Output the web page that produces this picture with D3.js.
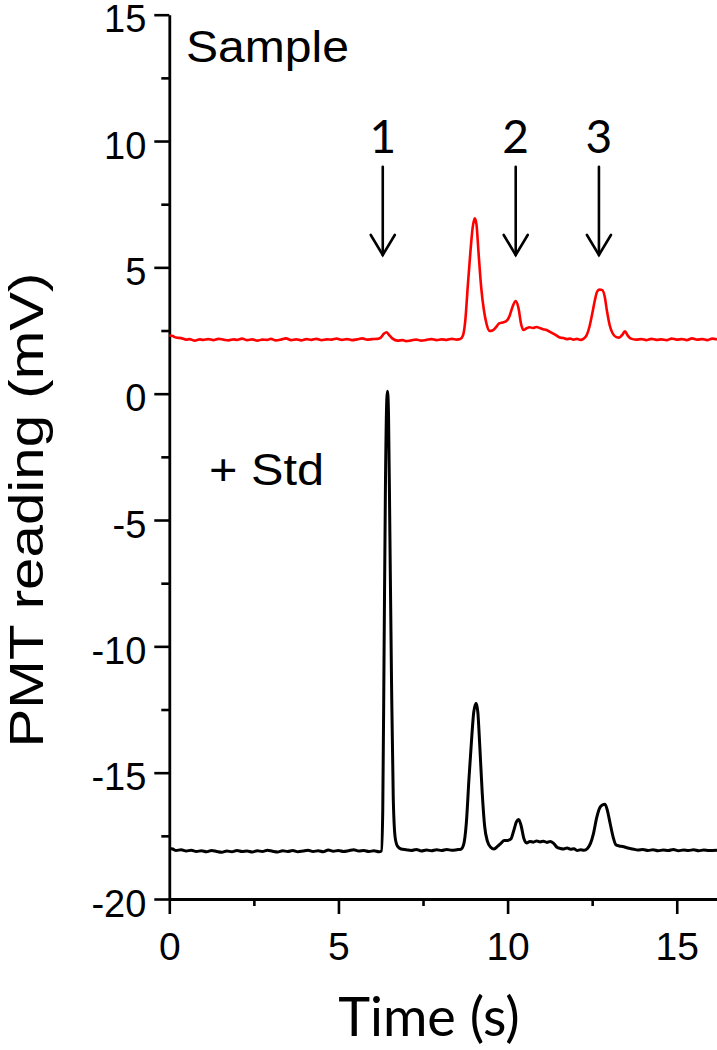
<!DOCTYPE html>
<html>
<head>
<meta charset="utf-8">
<script src="https://cdn.jsdelivr.net/npm/d3@7"></script>
<style>
  html, body { margin: 0; padding: 0; background: #fff; }
  svg { display: block; }
</style>
</head>
<body>
<svg id="chart" width="717" height="1050"></svg>
<script>
// ---------------- DATA ----------------
const sampleTime = [0.0,0.1,0.2,0.35,0.5,0.6,0.75,0.9,1.0,1.15,1.3,1.45,1.6,1.75,1.9,2.0,2.15,2.3,2.45,2.6,2.75,2.9,3.0,3.15,3.3,3.45,3.6,3.75,3.9,4.05,4.2,4.35,4.5,4.65,4.8,4.95,5.1,5.25,5.4,5.55,5.7,5.85,6.0,6.15,6.25,6.35,6.42,6.5,6.6,6.75,6.9,7.0,7.15,7.3,7.45,7.6,7.75,7.9,8.05,8.2,8.35,8.5,8.6,8.68,8.75,8.82,8.9,8.97,9.03,9.08,9.14,9.22,9.3,9.38,9.46,9.55,9.65,9.75,9.85,9.95,10.05,10.15,10.24,10.32,10.4,10.47,10.55,10.65,10.75,10.85,10.95,11.05,11.15,11.25,11.35,11.45,11.55,11.65,11.75,11.85,11.95,12.05,12.15,12.25,12.33,12.42,12.5,12.58,12.65,12.72,12.8,12.87,12.94,13.02,13.1,13.2,13.3,13.4,13.47,13.55,13.65,13.8,13.95,14.1,14.25,14.4,14.55,14.7,14.85,15.0,15.15,15.3,15.45,15.6,15.75,15.9,16.05,16.19];
const sampleVal = [2.30,2.28,2.22,2.20,2.14,2.16,2.10,2.15,2.13,2.16,2.12,2.17,2.14,2.11,2.15,2.13,2.18,2.12,2.15,2.10,2.14,2.13,2.17,2.11,2.14,2.19,2.12,2.15,2.11,2.16,2.13,2.17,2.12,2.15,2.14,2.18,2.13,2.16,2.12,2.15,2.19,2.14,2.16,2.17,2.22,2.38,2.43,2.32,2.18,2.10,2.12,2.08,2.11,2.14,2.10,2.13,2.16,2.12,2.15,2.13,2.17,2.14,2.16,2.30,2.9,4.2,5.6,6.6,6.94,6.7,5.6,4.2,3.3,2.75,2.48,2.50,2.62,2.78,2.82,2.86,3.05,3.45,3.67,3.40,2.75,2.52,2.58,2.63,2.60,2.64,2.60,2.55,2.52,2.45,2.38,2.30,2.22,2.20,2.16,2.18,2.14,2.17,2.13,2.18,2.30,2.65,3.15,3.70,4.05,4.12,4.10,3.85,3.25,2.70,2.40,2.25,2.22,2.35,2.47,2.30,2.18,2.14,2.16,2.12,2.17,2.13,2.15,2.12,2.18,2.14,2.16,2.12,2.19,2.14,2.16,2.12,2.18,2.15];

const stdTime = [0.0,0.1,0.2,0.35,0.5,0.65,0.8,0.95,1.1,1.25,1.4,1.55,1.7,1.85,2.0,2.15,2.3,2.45,2.6,2.75,2.9,3.05,3.2,3.35,3.5,3.65,3.8,3.95,4.1,4.25,4.4,4.55,4.7,4.85,5.0,5.15,5.3,5.45,5.6,5.75,5.9,6.05,6.2,6.27,6.31,6.35,6.39,6.43,6.45,6.48,6.52,6.57,6.62,6.68,6.75,6.85,7.0,7.15,7.3,7.45,7.6,7.75,7.9,8.05,8.2,8.35,8.5,8.62,8.7,8.78,8.86,8.94,9.0,9.07,9.12,9.18,9.25,9.32,9.4,9.5,9.6,9.7,9.8,9.9,10.0,10.1,10.18,10.26,10.33,10.4,10.48,10.56,10.66,10.76,10.86,10.96,11.06,11.16,11.26,11.36,11.46,11.56,11.66,11.76,11.86,11.96,12.06,12.16,12.26,12.36,12.45,12.54,12.63,12.72,12.8,12.88,12.95,13.03,13.12,13.2,13.3,13.4,13.55,13.7,13.85,14.0,14.15,14.3,14.45,14.6,14.75,14.9,15.05,15.2,15.35,15.5,15.65,15.8,15.95,16.19];
const stdVal = [-18.00,-18.02,-18.08,-18.05,-18.10,-18.07,-18.12,-18.09,-18.13,-18.08,-18.12,-18.15,-18.10,-18.13,-18.08,-18.12,-18.10,-18.14,-18.09,-18.12,-18.07,-18.11,-18.14,-18.09,-18.12,-18.08,-18.13,-18.10,-18.07,-18.12,-18.09,-18.13,-18.06,-18.11,-18.08,-18.12,-18.09,-18.05,-18.10,-18.08,-18.12,-18.09,-18.13,-18.10,-16.5,-10.0,-3.5,-0.2,0.1,-0.8,-5.5,-11.5,-16.0,-17.6,-17.92,-18.02,-18.05,-18.08,-18.04,-18.10,-18.06,-18.09,-18.05,-18.08,-18.04,-18.07,-18.05,-18.03,-17.85,-17.0,-15.2,-13.6,-12.6,-12.25,-12.6,-14.0,-15.8,-17.1,-17.7,-17.95,-18.02,-17.92,-17.8,-17.68,-17.68,-17.62,-17.3,-16.95,-16.85,-17.1,-17.6,-17.78,-17.72,-17.75,-17.70,-17.74,-17.71,-17.76,-17.72,-17.80,-17.95,-18.00,-18.02,-17.98,-18.03,-18.01,-18.08,-18.05,-18.07,-18.0,-17.8,-17.4,-16.8,-16.4,-16.28,-16.25,-16.5,-17.0,-17.55,-17.85,-17.9,-17.92,-17.98,-18.02,-18.06,-18.04,-18.08,-18.05,-18.09,-18.06,-18.08,-18.04,-18.09,-18.06,-18.08,-18.05,-18.09,-18.06,-18.08,-18.07];

const xMajorTicks = [0, 5, 10, 15];
const xMinorTicks = [2.5, 7.5, 12.5];
const yMajorTicks = [-20, -15, -10, -5, 0, 5, 10, 15];
const yMinorTicks = [-17.5, -12.5, -7.5, -2.5, 2.5, 7.5, 12.5];

const arrowTimes = [6.31, 10.24, 12.70];
const arrowLabels = ["1", "2", "3"];

// ---------------- LAYOUT ----------------
const svg = d3.select("#chart");
const x = d3.scaleLinear().domain([0, 16.19]).range([169.3, 717]);
const y = d3.scaleLinear().domain([-20, 15]).range([899, 14.7]);

const tickFont = "'Liberation Sans', Arial, sans-serif";
const fmt = d => String(d);

// Y axis
const gy = svg.append("g").attr("transform", `translate(${x(0)},0)`);
gy.call(d3.axisLeft(y).tickValues(yMajorTicks).tickSize(15).tickSizeOuter(0).tickPadding(8).tickFormat(fmt));
gy.append("g").call(d3.axisLeft(y).tickValues(yMinorTicks).tickSize(8).tickFormat(""))
  .select(".domain").remove();
gy.selectAll("path.domain").attr("stroke", "#000").attr("stroke-width", 2.8);
gy.selectAll("line").attr("stroke", "#000").attr("stroke-width", 2.6);
gy.selectAll("text").attr("font-family", tickFont).attr("font-size", 38).attr("fill", "#000").attr("dy", "0.45em");

// X axis
const gx = svg.append("g").attr("transform", `translate(0,${y(-20)})`);
gx.call(d3.axisBottom(x).tickValues(xMajorTicks).tickSize(15).tickSizeOuter(0).tickPadding(18).tickFormat(fmt));
gx.append("g").call(d3.axisBottom(x).tickValues(xMinorTicks).tickSize(7).tickFormat(""))
  .select(".domain").remove();
gx.selectAll("path.domain").attr("stroke", "#000").attr("stroke-width", 2.8);
gx.selectAll("line").attr("stroke", "#000").attr("stroke-width", 2.6);
gx.selectAll("text").attr("font-family", tickFont).attr("font-size", 39).attr("fill", "#000");

// Traces
const line = d3.line().x(d => x(d[0])).y(d => y(d[1])).curve(d3.curveMonotoneX);
const sampleData = sampleTime.map((t, i) => [t, sampleVal[i]]);
const stdData = stdTime.map((t, i) => [t, stdVal[i]]);

svg.append("path").datum(sampleData).attr("d", line)
  .attr("fill", "none").attr("stroke", "#ff0000").attr("stroke-width", 2.6).attr("stroke-linejoin", "round");
svg.append("path").datum(stdData).attr("d", line)
  .attr("fill", "none").attr("stroke", "#000").attr("stroke-width", 3).attr("stroke-linejoin", "round");

// Arrows and labels
const arrowTop = 8.98, arrowTip = 5.49, labelBase = 9.54;
arrowTimes.forEach((t, i) => {
  const ax = x(t), ty = y(arrowTip);
  const g = svg.append("g").attr("stroke", "#000").attr("stroke-width", 2.6).attr("fill", "none").attr("stroke-linecap", "round");
  g.append("line").attr("x1", ax).attr("x2", ax).attr("y1", y(arrowTop)).attr("y2", ty);
  g.append("polyline").attr("points", `${ax - 12},${ty - 20} ${ax},${ty} ${ax + 12},${ty - 20}`);
  svg.append("text").attr("x", ax).attr("y", y(labelBase)).attr("text-anchor", "middle")
    .attr("font-family", "Lato, 'Open Sans', sans-serif").attr("font-size", 46).attr("fill", "#000")
    .text(arrowLabels[i]);
});

// Panel labels
svg.append("text").attr("x", 186).attr("y", 62).attr("font-family", tickFont).attr("font-size", 44).attr("fill", "#000")
  .attr("textLength", 163).attr("lengthAdjust", "spacingAndGlyphs").text("Sample");
svg.append("text").attr("x", 209).attr("y", 485).attr("font-family", tickFont).attr("font-size", 44).attr("fill", "#000")
  .attr("textLength", 115).attr("lengthAdjust", "spacingAndGlyphs").text("+ Std");

// Axis titles
svg.append("text").attr("transform", "translate(43,510) rotate(-90)").attr("text-anchor", "middle")
  .attr("font-family", tickFont).attr("font-size", 48).attr("fill", "#000")
  .attr("textLength", 475).attr("lengthAdjust", "spacingAndGlyphs")
  .text("PMT reading (mV)");
svg.append("text").attr("x", 429).attr("y", 1036).attr("text-anchor", "middle")
  .attr("font-family", "Lato, 'Open Sans', sans-serif").attr("font-size", 54).attr("fill", "#000")
  .text("Time (s)");
</script>
</body>
</html>
